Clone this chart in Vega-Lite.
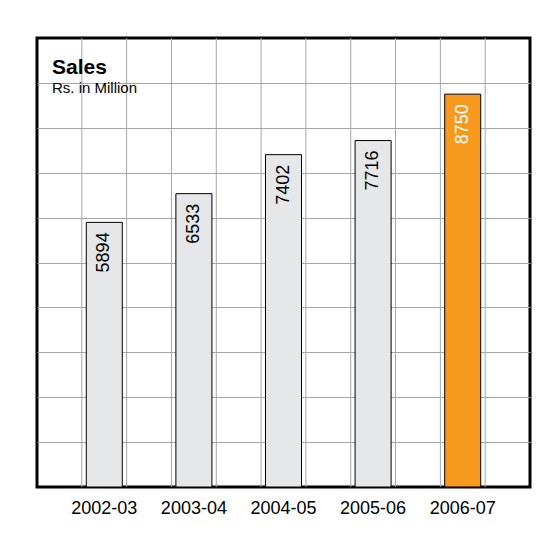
{
  "$schema": "https://vega.github.io/schema/vega-lite/v6.json",
  "autosize": {"type": "none"},
  "width": 493,
  "height": 449,
  "padding": {"left": 37, "top": 38, "right": 21, "bottom": 46},
  "background": "white",
  "config": {
    "font": "Liberation Sans",
    "view": {"stroke": "black", "strokeWidth": 3}
  },
  "title": {
    "text": "Sales",
    "subtitle": "Rs. in Million",
    "anchor": "start",
    "frame": "group",
    "orient": "top",
    "offset": -58,
    "dx": 15,
    "font": "Liberation Sans",
    "fontSize": 21,
    "fontWeight": "bold",
    "color": "black",
    "subtitleFont": "Liberation Sans",
    "subtitleFontSize": 15,
    "subtitleColor": "black",
    "subtitlePadding": 3
  },
  "layer": [
    {
      "data": {"values": [{"g": 1}, {"g": 2}, {"g": 3}, {"g": 4}, {"g": 5}, {"g": 6}, {"g": 7}, {"g": 8}, {"g": 9}, {"g": 10}]},
      "mark": {"type": "rule", "color": "#a6a6a6", "strokeWidth": 1},
      "encoding": {
        "x": {"field": "g", "type": "quantitative", "scale": {"domain": [0, 11]}, "axis": null}
      }
    },
    {
      "data": {"values": [
        {"year": "2002-03", "sales": 5894},
        {"year": "2003-04", "sales": 6533},
        {"year": "2004-05", "sales": 7402},
        {"year": "2005-06", "sales": 7716},
        {"year": "2006-07", "sales": 8750}
      ]},
      "encoding": {
        "x": {
          "field": "year", "type": "nominal", "sort": null,
          "scale": {"paddingInner": 0.598, "paddingOuter": 0.55},
          "axis": {"orient": "bottom", "title": null, "domain": false, "ticks": false, "labelAngle": 0, "labelFontSize": 18, "labelColor": "black", "labelPadding": 12, "labelFont": "Liberation Sans"}
        },
        "y": {
          "field": "sales", "type": "quantitative",
          "scale": {"domain": [0, 10000], "nice": false},
          "axis": {"title": null, "domain": false, "ticks": false, "labels": false, "grid": true, "values": [1000, 2000, 3000, 4000, 5000, 6000, 7000, 8000, 9000], "gridColor": "#a6a6a6", "gridWidth": 1}
        }
      },
      "layer": [
        {
          "mark": {"type": "bar", "stroke": "black", "strokeWidth": 1},
          "encoding": {
            "color": {
              "condition": {"test": "datum.year === '2006-07'", "value": "#F7991D"},
              "value": "#E6E7E9"
            }
          }
        },
        {
          "mark": {"type": "text", "angle": 270, "align": "right", "baseline": "middle", "yOffset": 10, "fontSize": 18, "font": "Liberation Sans"},
          "encoding": {
            "text": {"field": "sales", "type": "quantitative", "format": "d"},
            "color": {
              "condition": {"test": "datum.year === '2006-07'", "value": "white"},
              "value": "black"
            }
          }
        }
      ]
    }
  ],
  "resolve": {"scale": {"x": "independent"}}
}
